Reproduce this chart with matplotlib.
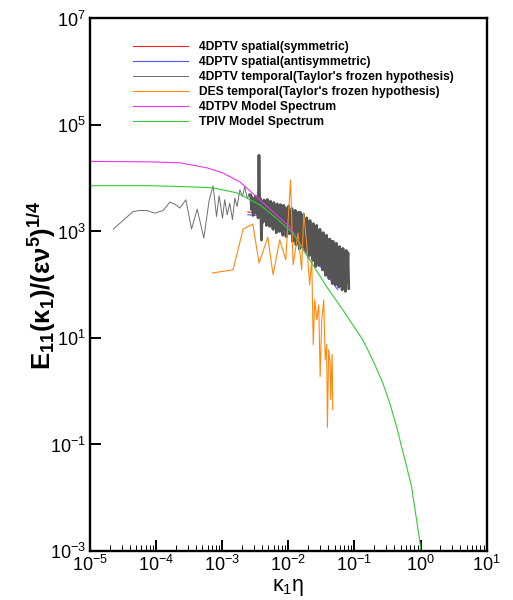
import numpy as np
import matplotlib
matplotlib.use('Agg')
import matplotlib.pyplot as plt
from matplotlib.ticker import LogLocator, NullLocator, NullFormatter

plt.rcParams['font.family'] = ['Liberation Sans', 'DejaVu Sans']
plt.rcParams['mathtext.fontset'] = 'custom'
plt.rcParams['mathtext.rm'] = 'Liberation Sans'
plt.rcParams['mathtext.it'] = 'Liberation Sans:italic'
plt.rcParams['mathtext.bf'] = 'Liberation Sans:bold'
plt.rcParams['axes.unicode_minus'] = False

# 4DPTV spatial spectra (mostly hidden under the temporal band)
sym_k = [2.44e-3, 3.96e-3, 6.23e-3, 1.05e-2, 1.77e-2, 2.51e-2, 3.55e-2, 5.03e-2]
sym_E = [2340, 2150, 1660, 1080, 562, 314, 191, 114]
anti_k = [2.44e-3, 3.96e-3, 6.23e-3, 1.05e-2, 1.77e-2, 2.51e-2, 3.55e-2, 5.57e-2]
anti_E = [2060, 1970, 1520, 946, 494, 294, 175, 81]

# 4DPTV temporal spectrum, low wavenumber part
temp_k = [2.25e-5, 4.5e-5, 5.7e-5, 7.2e-5, 9.6e-5, 1.28e-4, 1.61e-4, 1.92e-4,
          2.29e-4, 2.82e-4, 3.44e-4, 4.18e-4, 5.27e-4, 6.34e-4, 7.29e-4, 8.2e-4,
          8.98e-4, 1.01e-3, 1.09e-3, 1.19e-3, 1.30e-3, 1.43e-3, 1.55e-3, 1.68e-3,
          1.85e-3, 2.03e-3, 2.19e-3, 2.38e-3, 2.61e-3]
temp_E = [1110, 2370, 2480, 2480, 2210, 2480, 3560, 3270,
          2750, 3940, 1110, 2630, 752, 3820, 7200, 1910,
          4680, 1780, 3940, 2060, 3410, 1660, 4240, 2940,
          6050, 4540, 6980, 4240, 4890]
# 4DPTV temporal spectrum, dense high wavenumber part (2.7e-3 .. 8.2e-2)
temp_dense_E = [
    4900, 2600, 4300, 2000, 3800, 2900, 4600, 2200, 3500, 1800,
    27000, 2400, 4100, 690, 3300, 1500, 3900, 2100, 3600, 1300,
    4000, 1700, 3400, 1250, 3700, 2000, 3100, 1100, 3500, 1500,
    2700, 950, 3300, 1800, 2900, 1000, 3200, 1300, 2600, 850,
    3100, 1200, 2800, 800, 2500, 1400, 3000, 900, 2300, 1100,
    2700, 650, 2200, 1000, 2500, 560, 2100, 800, 2300, 470,
    2300, 900, 1900, 500, 2100, 700, 1700, 420, 1800, 800,
    1500, 350, 1600, 600, 1300, 280, 1400, 500, 1200, 220,
    1300, 450, 1000, 230, 1100, 380, 900, 190, 950, 330,
    780, 150, 850, 300, 700, 130, 720, 250, 650, 105,
    650, 200, 560, 100, 600, 170, 500, 90, 520, 150,
    450, 80, 480, 130, 420, 75, 440, 110, 400, 85]
temp_dense_k = np.geomspace(2.7e-3, 8.2e-2, len(temp_dense_E))

# DES temporal spectrum
des_k = [7.1e-4, 1.46e-3, 2.07e-3, 2.90e-3, 3.61e-3, 4.89e-3, 5.88e-3, 7.41e-3,
         9.14e-3, 1.08e-2, 1.18e-2, 1.40e-2, 1.59e-2, 1.71e-2, 1.90e-2, 2.10e-2,
         2.26e-2, 2.38e-2, 2.51e-2, 2.69e-2, 2.88e-2, 3.03e-2, 3.20e-2, 3.43e-2,
         3.61e-2, 3.80e-2, 3.90e-2, 4.08e-2, 4.30e-2, 4.37e-2, 4.60e-2, 4.69e-2]
des_E = [166, 191, 1110, 1380, 255, 780, 154, 700,
         294, 9330, 237, 933, 191, 2240, 562, 100,
         294, 7.5, 52, 22, 42, 1.9, 22, 52,
         3.9, 7.5, 0.21, 6.0, 3.2, 0.70, 4.9, 0.45]

# model spectra
m4d_k = [1e-5, 8.05e-5, 2.29e-4, 5.85e-4, 1.02e-3, 1.85e-3, 3.70e-3, 1.05e-2,
         1.16e-2, 2.10e-2]
m4d_E = [20700, 20300, 19500, 15700, 12600, 8540, 3940, 1220, 1000, 300]
tpiv_k = [1e-5, 8.05e-5, 3.24e-4, 7.21e-4, 1.66e-3, 3.70e-3, 6.45e-3, 1.16e-2,
          2.10e-2, 3.80e-2, 6.64e-2, 0.133, 0.188, 0.267, 0.340, 0.434,
          0.516, 0.615, 0.731, 0.811, 0.902, 1.0, 1.02]
tpiv_E = [7240, 7240, 6900, 6610, 5320, 3170, 1810, 946,
          294, 91.6, 34, 9.3, 3.92, 1.45, 0.611, 0.217,
          0.0914, 0.0385, 0.0162, 6.8e-3, 2.88e-3, 1.2e-3, 8e-4]

labels = ['4DPTV spatial(symmetric)', '4DPTV spatial(antisymmetric)',
          "4DPTV temporal(Taylor's frozen hypothesis)",
          "DES temporal(Taylor's frozen hypothesis)",
          '4DTPV Model Spectrum', 'TPIV Model Spectrum']

fig = plt.figure(figsize=(5.13, 6.0), dpi=100)
ax = fig.add_axes([0.1754, 0.0817, 0.7733, 0.8875])

ax.plot(sym_k, sym_E, color='#ee2222', lw=0.8, label=labels[0])
ax.plot(anti_k, anti_E, color='#5555ff', lw=0.8, label=labels[1])
ax.plot(temp_k, temp_E, color='#6e6e6e', lw=0.7, label=labels[2])
ax.plot([temp_k[-1]] + list(temp_dense_k), [temp_E[-1]] + temp_dense_E,
        color='#555555', lw=2.0)
ax.plot(des_k, des_E, color='#ff8811', lw=0.8, label=labels[3])
ax.plot(m4d_k, m4d_E, color='#ee33ee', lw=0.8, label=labels[4])
ax.plot(tpiv_k, tpiv_E, color='#33cc33', lw=0.8, label=labels[5])

ax.set_xscale('log')
ax.set_yscale('log')
ax.set_xlim(1e-5, 10)
ax.set_ylim(1e-3, 1e7)

ax.xaxis.set_major_locator(LogLocator(base=10, numticks=20))
ax.xaxis.set_minor_locator(LogLocator(base=10, subs=np.arange(2, 10), numticks=20))
ax.xaxis.set_minor_formatter(NullFormatter())
ax.set_yticks([1e-3, 1e-1, 1e1, 1e3, 1e5, 1e7])
ax.yaxis.set_minor_locator(NullLocator())

ax.tick_params(which='major', direction='in', length=8, width=1.4,
               labelsize=13, pad=3, top=False, right=False)
ax.tick_params(which='minor', direction='in', length=4.3, width=0.7,
               top=False, right=False)
for s in ax.spines.values():
    s.set_linewidth(1.7)

ax.set_xlabel(r'$\mathrm{\kappa_1\eta}$', fontsize=15.5, labelpad=1)
ax.set_ylabel(r'$\mathbf{E_{11}(\kappa_1)/(\epsilon\nu^5)^{1/4}}$', fontsize=18.5, labelpad=-6)

leg = ax.legend(loc='upper left', bbox_to_anchor=(0.108, 0.957), frameon=False,
                borderaxespad=0, borderpad=0, handlelength=4.55, handletextpad=0.9,
                labelspacing=0.24, prop={'weight': 'bold', 'size': 8.7})

fig.savefig('out.png', dpi=100)
